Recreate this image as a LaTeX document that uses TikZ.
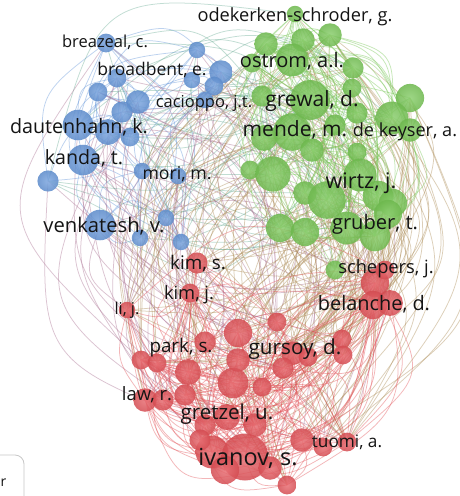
\documentclass[tikz,border=0pt]{standalone}
\usepackage{fontspec}
\setmainfont{Open Sans}
\definecolor{vb}{RGB}{100,150,218}
\definecolor{vg}{RGB}{118,198,84}
\definecolor{vr}{RGB}{228,82,88}
\newdimen\myXa \newdimen\myYa \newdimen\myXb \newdimen\myYb
\newcommand\myedge[3]{%
  \pgfextractx{\myXa}{\pgfpointanchor{n#1}{center}}%
  \pgfextracty{\myYa}{\pgfpointanchor{n#1}{center}}%
  \pgfextractx{\myXb}{\pgfpointanchor{n#2}{center}}%
  \pgfextracty{\myYb}{\pgfpointanchor{n#2}{center}}%
  \pgfmathsetmacro\eXa{\myXa/100}%
  \pgfmathsetmacro\eYa{\myYa/100}%
  \pgfmathsetmacro\eXb{\myXb/100}%
  \pgfmathsetmacro\eYb{\myYb/100}%
  \pgfmathsetmacro\eDx{(\eXb)-(\eXa)}%
  \pgfmathsetmacro\eDy{(\eYb)-(\eYa)}%
  \pgfmathsetmacro\eMx{((\eXa)+(\eXb))/2}%
  \pgfmathsetmacro\eMy{((\eYa)+(\eYb))/2}%
  \pgfmathsetmacro\eSg{(-(\eDy)*((\eMx)-2.5)+(\eDx)*((\eMy)+2.4))<0 ? -1 : 1}%
  \pgfmathsetmacro\eK{(rnd<0.62 ? 1 : -1)*(0.22+0.22*rnd)}%
  \pgfmathsetmacro\ePx{100*((\eMx)-(\eSg)*(\eK)*(\eDy))}%
  \pgfmathsetmacro\ePy{100*((\eMy)+(\eSg)*(\eK)*(\eDx))}%
  \draw[edge,draw=#3] (n#1) .. controls (\ePx pt,\ePy pt) .. (n#2);%
}
\def\NODES{1/106/43/8/vb, 2/197/50/7/vb, 3/117/78/8/vb, 4/221/72/10/vb, 5/214/86/8/vb,
 6/192/80/7/vb, 7/98/92/8/vb, 8/138/102/10/vb, 9/122/112/9/vb, 10/78/125/13/vb,
 11/108/132/11/vb, 12/130/137/8/vb, 13/83/160/13/vb, 14/48/181/9/vb, 15/142/171/7/vb,
 16/178/176/7/vb, 17/100/225/13/vb, 18/166/218/7/vb, 19/140/238/7/vb, 20/181/242/7/vb,
 21/205/100/7/vb,
 22/295/14/7/vg, 23/266/44/10/vg, 24/303/40/10/vg, 25/330/35/10/vg, 26/292/60/14/vg,
 27/353/68/9/vg, 28/252/63/8/vg, 29/352/88/8/vg, 30/310/100/17/vg, 31/357/113/9/vg,
 32/410/98/12/vg, 33/392/118/14/vg, 34/292/132/16/vg, 35/264/138/11/vg, 36/312/150/10/vg,
 37/357/152/8/vg, 38/410/130/10/vg, 39/250/170/8/vg, 40/273/174/15/vg, 41/305/193/10/vg,
 42/327/200/16/vg, 43/360/175/14/vg, 44/378/196/13/vg, 45/393/203/12/vg, 46/280/228/12/vg,
 47/305/232/12/vg, 48/347/228/14/vg, 49/375/236/13/vg, 50/388/214/12/vg, 51/335/270/8/vg,
 52/262/96/9/vg, 53/335/125/9/vg,
 54/197/263/9/vr, 55/190/293/8/vr, 56/127/310/7/vr, 57/141/360/8/vr, 58/157/363/8/vr,
 59/188/372/11/vr, 60/205/342/9/vr, 61/145/400/10/vr, 62/163/400/9/vr, 63/185/395/9/vr,
 64/238/333/12/vr, 65/277/322/8/vr, 66/293/353/10/vr, 67/308/357/8/vr, 68/342/339/8/vr,
 69/343/355/8/vr, 70/283/368/9/vr, 71/262/387/8/vr, 72/375/283/12/vr, 73/373/305/12/vr,
 74/390/303/11/vr, 75/385/270/8/vr, 76/302/440/10/vr, 77/323/447/8/vr, 78/347/442/8/vr,
 79/287/485/8/vr, 80/212/452/14/vr, 81/245/457/20/vr, 82/270/468/10/vr, 83/233/383/13/vr,
 84/238/360/10/vr, 85/227/417/11/vr, 86/205/425/9/vr, 87/255/425/10/vr, 88/200/440/9/vr,
 89/225/470/12/vr}
\begin{document}
\begin{tikzpicture}[x=1pt,y=-1pt,
  edge/.style={line width=0.75pt,draw opacity=0.42},
  bub/.style={circle,inner sep=0pt,draw=none,fill opacity=0.86},
  lab/.style={text=black!92,inner sep=0pt}]
\useasboundingbox (0,0) rectangle (460,496);
\fill[white] (0,0) rectangle (460,496);
\foreach \i/\x/\y/\r/\c in \NODES {\coordinate (n\i) at (\x,\y);}
\pgfmathsetseed{2024}
% blue-blue
\foreach \t in {1,...,60}{\pgfmathrandominteger{\ea}{1}{21}\pgfmathrandominteger{\eb}{1}{21}\ifnum\ea=\eb\else\myedge{\ea}{\eb}{vb}\fi}
% blue-green
\foreach \t in {1,...,50}{\pgfmathrandominteger{\ea}{1}{21}\pgfmathrandominteger{\eb}{22}{53}\myedge{\ea}{\eb}{vb!50!vg}}
% blue-red
\foreach \t in {1,...,70}{\pgfmathrandominteger{\ea}{1}{21}\pgfmathrandominteger{\eb}{54}{89}\myedge{\ea}{\eb}{vb!45!vr}}
% green-red
\foreach \t in {1,...,150}{\pgfmathrandominteger{\ea}{22}{53}\pgfmathrandominteger{\eb}{54}{89}\myedge{\ea}{\eb}{vg!50!vr}}
% green-green
\foreach \t in {1,...,160}{\pgfmathrandominteger{\ea}{22}{53}\pgfmathrandominteger{\eb}{22}{53}\ifnum\ea=\eb\else\myedge{\ea}{\eb}{vg}\fi}
% red-red
\foreach \t in {1,...,200}{\pgfmathrandominteger{\ea}{54}{89}\pgfmathrandominteger{\eb}{54}{89}\ifnum\ea=\eb\else\myedge{\ea}{\eb}{vr}\fi}
% bubbles
\foreach \i/\x/\y/\r/\c in \NODES {%
  \node[bub,shade,inner color=\c!82!white,outer color=\c!93!black,minimum size=2.35*\r pt] (b\i) at (n\i) {};}
% labels
\node[lab,font=\fontsize{16.5}{16.5}\selectfont] (Lbreazeal) at (105,42) {breazeal, c.};
\node[lab,font=\fontsize{17.5}{17.5}\selectfont] (Lbroadbent) at (152,70) {broadbent, e.};
\node[lab,font=\fontsize{16.5}{16.5}\selectfont] (Lcacioppo) at (204,103) {cacioppo, j.t.};
\node[lab,font=\fontsize{19.7}{19.7}\selectfont] (Ldautenhahn) at (79,127) {dautenhahn, k.};
\node[lab,font=\fontsize{19.6}{19.6}\selectfont] (Lkanda) at (84,158) {kanda, t.};
\node[lab,font=\fontsize{17.7}{17.7}\selectfont] (Lmori) at (177,174) {mori, m.};
\node[lab,font=\fontsize{20.2}{20.2}\selectfont] (Lvenkatesh) at (104,226) {venkatesh, v.};
\node[lab,font=\fontsize{18.2}{18.2}\selectfont] (Lodekerken) at (295,17) {odekerken-schroder, g.};
\node[lab,font=\fontsize{20}{20}\selectfont] (Lostrom) at (292,61) {ostrom, a.l.};
\node[lab,font=\fontsize{21}{21}\selectfont] (Lgrewal) at (312,101) {grewal, d.};
\node[lab,font=\fontsize{21}{21}\selectfont] (Lmende) at (295,130) {mende, m.};
\node[lab,font=\fontsize{18.1}{18.1}\selectfont] (Ldekeyser) at (405,132) {de keyser, a.};
\node[lab,font=\fontsize{21.5}{21.5}\selectfont] (Lwirtz) at (361,183) {wirtz, j.};
\node[lab,font=\fontsize{20.1}{20.1}\selectfont] (Lgruber) at (375,224) {gruber, t.};
\node[lab,font=\fontsize{18.3}{18.3}\selectfont] (Lschepers) at (386,269) {schepers, j.};
\node[lab,font=\fontsize{19.9}{19.9}\selectfont] (Lbelanche) at (374,304) {belanche, d.};
\node[lab,font=\fontsize{18.8}{18.8}\selectfont] (Lkims) at (198,264) {kim, s.};
\node[lab,font=\fontsize{18.3}{18.3}\selectfont] (Lkimj) at (189,295) {kim, j.};
\node[lab,font=\fontsize{16.3}{16.3}\selectfont] (Llij) at (127,310) {li, j.};
\node[lab,font=\fontsize{18.8}{18.8}\selectfont] (Lpark) at (181,348) {park, s.};
\node[lab,font=\fontsize{18.4}{18.4}\selectfont] (Llaw) at (147,395) {law, r.};
\node[lab,font=\fontsize{20.5}{20.5}\selectfont] (Lgretzel) at (227,414) {gretzel, u.};
\node[lab,font=\fontsize{20.7}{20.7}\selectfont] (Lgursoy) at (295,349) {gursoy, d.};
\node[lab,font=\fontsize{23.5}{23.5}\selectfont] (Livanov) at (248,458) {ivanov, s.};
\node[lab,font=\fontsize{17.2}{17.2}\selectfont] (Ltuomi) at (347,442) {tuomi, a.};
% corner box
\draw[black!22,line width=0.8pt,rounded corners=9pt] (-12,455) rectangle (24,520);
\node[lab,anchor=west,font=\fontsize{14}{14}\selectfont] (Lcorner) at (0.5,483) {r};
\end{tikzpicture}
\end{document}
